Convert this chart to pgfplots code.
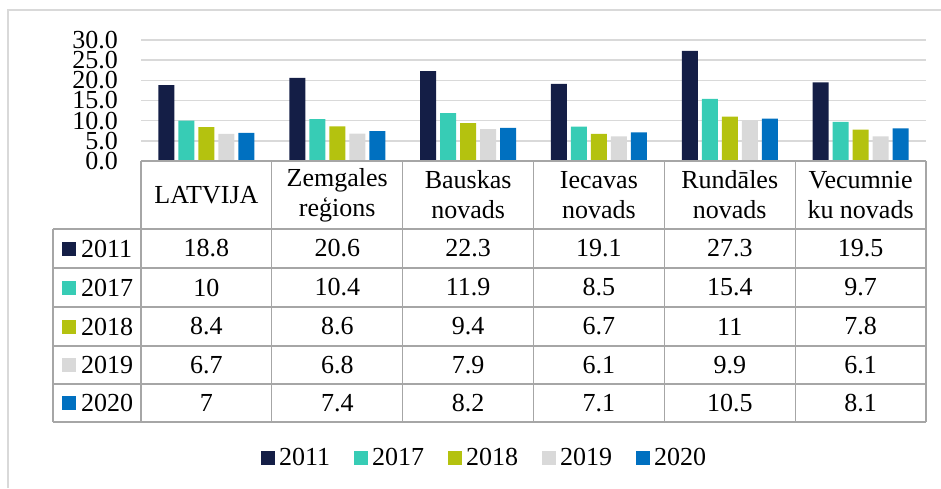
\documentclass[border=0pt]{standalone}
\usepackage{fontspec}
\setmainfont{Liberation Serif}
\usepackage{pgfplots}
\pgfplotsset{compat=1.18}
\usepackage{pgfplotstable}
\definecolor{c11}{HTML}{141E46}
\definecolor{c17}{HTML}{37CCB5}
\definecolor{c18}{HTML}{B4C20F}
\definecolor{c19}{HTML}{D9D9D9}
\definecolor{c20}{HTML}{0070C0}
\definecolor{gridc}{HTML}{D9D9D9}
\definecolor{tabc}{HTML}{A6A6A6}
\newcommand{\cf}{\fontsize{26}{30}\selectfont}

\pgfplotstableread{
x y2011 y2017 y2018 y2019 y2020
0 18.8 10 8.4 6.7 7
1 20.6 10.4 8.6 6.8 7.4
2 22.3 11.9 9.4 7.9 8.2
3 19.1 8.5 6.7 6.1 7.1
4 27.3 15.4 11 9.9 10.5
5 19.5 9.7 7.8 6.1 8.1
}\datatable

\begin{document}
\begin{tikzpicture}[x=1pt,y=1pt]
\useasboundingbox (0,0) rectangle (941,488);
\draw[gridc, line width=1.3pt] (8,0) -- (8,478) -- (941,478);
\begin{axis}[
  at={(141pt,327pt)}, anchor=south west,
  scale only axis, width=785pt, height=121pt,
  xmin=-0.5, xmax=5.5, ymin=0, ymax=30,
  ytick={0,5,...,30},
  xtick=\empty,
  ymajorgrids, grid style={gridc, line width=1.5pt},
  axis line style={draw=none},
  major tick length=0pt,
  /pgf/number format/assume math mode=true,
  tick label style={font=\cf},
  yticklabel style={/pgf/number format/fixed, /pgf/number format/fixed zerofill, /pgf/number format/precision=1, anchor=east, inner sep=0pt, xshift=-23pt},
  ybar=4pt, bar width=16pt,
  clip=false,
  legend columns=5,
  legend cell align=left,
  legend image code/.code={\fill[#1] (0pt,-7pt) rectangle (14pt,7pt);},
  legend style={at={(0.4389,-2.4545)}, anchor=center, draw=none, fill=none, font=\cf,
    nodes={inner xsep=4pt, inner ysep=0pt},
    /tikz/every even column/.append style={column sep=20pt}},
]
\addplot[fill=c11, draw=none] table[x=x,y=y2011]{\datatable};
\addplot[fill=c17, draw=none] table[x=x,y=y2017]{\datatable};
\addplot[fill=c18, draw=none] table[x=x,y=y2018]{\datatable};
\addplot[fill=c19, draw=none] table[x=x,y=y2019]{\datatable};
\addplot[fill=c20, draw=none] table[x=x,y=y2020]{\datatable};
\legend{2011,2017,2018,2019,2020}
\end{axis}
\def\cw{130.8333}
\foreach \yy in {259,220,181,142,104,66} \draw[tabc, line width=1.2pt] (53,\yy) -- (926,\yy);
\draw[tabc, line width=1.2pt] (141,327) -- (926,327);
\foreach \i in {0,...,6} \draw[tabc, line width=1.2pt] ({141+\i*\cw},327) -- ({141+\i*\cw},66);
\draw[tabc, line width=1.2pt] (53,259) -- (53,66);
\foreach \lab [count=\i from 0] in {LATVIJA, {Zemgales\\reģions}, {Bauskas\\novads}, {Iecavas\\novads}, {Rundāles\\novads}, {Vecumnie\\ku novads}}
  \node[font=\cf, align=center] at ({141+(\i+0.5)*\cw},293) {\lab};
\foreach \yr/\c/\yy/\col in {2011/y2011/239.5/c11, 2017/y2017/200.5/c17, 2018/y2018/161.5/c18, 2019/y2019/123/c19, 2020/y2020/85/c20}{
  \fill[\col] (62,\yy-7) rectangle (76,\yy+7);
  \node[font=\cf, anchor=west, inner sep=0pt] at (81,\yy) {\yr};
  \foreach \j in {0,...,5}{
    \pgfplotstablegetelem{\j}{\c}\of\datatable
    \node[font=\cf, inner sep=0pt] at ({141+(\j+0.5)*\cw},\yy) {\pgfplotsretval};
  }
}
\end{tikzpicture}
\end{document}
